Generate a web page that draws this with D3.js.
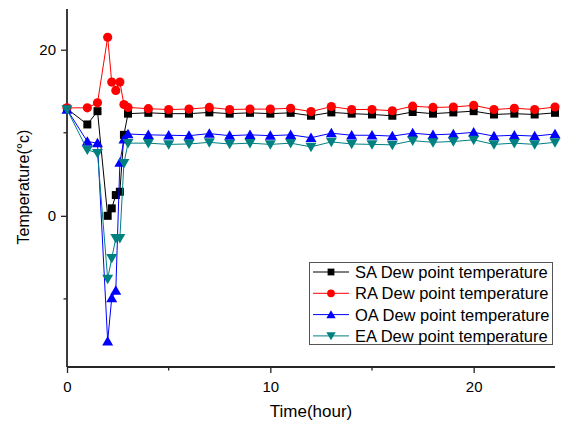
<!DOCTYPE html>
<html>
<head>
<meta charset="utf-8">
<script src="https://cdn.jsdelivr.net/npm/d3@7"></script>
<style>
  body { margin: 0; background: #fff; }
  svg { font-family: "Liberation Sans", Arial, sans-serif; }
</style>
</head>
<body>
<div id="chart"></div>
<script>
var hours = [0, 1, 1.5, 2, 2.2, 2.4, 2.6, 2.8, 3,
    4, 5, 6, 7, 8, 9, 10, 11, 12, 13, 14, 15, 16, 17, 18, 19, 20, 21, 22, 23, 24];

var saDew = [12.9, 11.0, 12.6, 0.0, 0.9, 2.5, 2.9, 9.75, 12.3,
    12.4, 12.3, 12.3, 12.45, 12.3, 12.4, 12.3, 12.4, 12.05, 12.45,
    12.3, 12.2, 12.05, 12.5, 12.3, 12.45, 12.6, 12.2, 12.3, 12.2, 12.4];
var raDew = [13.0, 13.0, 13.6, 21.5, 16.1, 15.1, 16.1, 13.4, 13.05,
    12.9, 12.8, 12.85, 13.05, 12.8, 12.85, 12.85, 12.95, 12.55, 13.15,
    12.8, 12.8, 12.65, 13.2, 13.05, 13.1, 13.3, 12.8, 12.95, 12.8, 13.1];
var oaDew = [12.8, 8.95, 8.75, -15.1, -9.9, -9.0, 6.4, 9.2, 9.85,
    9.75, 9.7, 9.65, 9.9, 9.65, 9.75, 9.65, 9.75, 9.4, 9.95,
    9.7, 9.7, 9.6, 9.95, 9.75, 9.85, 10.05, 9.6, 9.7, 9.6, 9.85];
var eaDew = [12.8, 7.95, 7.55, -7.6, -5.1, -2.7, -2.7, 6.35, 8.75,
    8.75, 8.6, 8.65, 8.85, 8.65, 8.75, 8.6, 8.75, 8.3, 8.9,
    8.65, 8.6, 8.55, 9.05, 8.85, 8.95, 9.15, 8.6, 8.75, 8.6, 8.85];

var seriesNames = ['SA Dew point temperature', 'RA Dew point temperature',
    'OA Dew point temperature', 'EA Dew point temperature'];
var xTicks = [0, 10, 20];
var xMinorTicks = [5, 15];
var yTicks = [0, 20];
var yMinorTicks = [-10, 10];

var series = [
    { name: seriesNames[0], values: saDew, color: '#000000', symbol: 'square' },
    { name: seriesNames[1], values: raDew, color: '#ff0000', symbol: 'circle' },
    { name: seriesNames[2], values: oaDew, color: '#0000ff', symbol: 'up' },
    { name: seriesNames[3], values: eaDew, color: '#008080', symbol: 'down' }
];

var width = 561, height = 423;
var x = d3.scaleLinear().domain([0, 24]).range([67, 555]);
var y = d3.scaleLinear().domain([-18.2, 24.9]).range([367, 9]);

var svg = d3.select('#chart').append('svg')
    .attr('width', width)
    .attr('height', height);

function markerPath(kind, scale) {
    var s = scale || 1;
    if (kind === 'square') return d3.symbol(d3.symbolSquare, 64 * s * s)();
    if (kind === 'circle') return d3.symbol(d3.symbolCircle, 66 * s * s)();
    return d3.symbol(d3.symbolTriangle, 52 * s * s)();
}
function markerTransform(kind, px, py) {
    if (kind === 'up') return 'translate(' + px + ',' + (py + 1) + ')';
    if (kind === 'down') return 'translate(' + px + ',' + (py - 1) + ') rotate(180)';
    return 'translate(' + px + ',' + py + ')';
}

// axes, only left and bottom lines with outward ticks
var axisColor = '#262626';
var xAxis = svg.append('g').attr('transform', 'translate(0,367)');
xAxis.call(d3.axisBottom(x).tickValues(xTicks).tickSize(6).tickPadding(5).tickFormat(d3.format('d')));
xAxis.selectAll('.minor').data(xMinorTicks).enter().append('line')
    .attr('class', 'minor')
    .attr('x1', function(d) { return x(d); })
    .attr('x2', function(d) { return x(d); })
    .attr('y1', 0).attr('y2', 3.5);

var yAxis = svg.append('g').attr('transform', 'translate(67,0)');
yAxis.call(d3.axisLeft(y).tickValues(yTicks).tickSize(6).tickPadding(5).tickFormat(d3.format('d')));
yAxis.selectAll('.minor').data(yMinorTicks).enter().append('line')
    .attr('class', 'minor')
    .attr('y1', function(d) { return y(d); })
    .attr('y2', function(d) { return y(d); })
    .attr('x1', 0).attr('x2', -3.5);

svg.selectAll('.domain').attr('stroke', axisColor).attr('stroke-width', 1.8);
xAxis.select('.domain').attr('d', 'M' + x(0) + ',0H' + x(24));
yAxis.select('.domain').attr('d', 'M0,' + y(-18.2) + 'V' + y(24.9));
svg.selectAll('.tick line, .minor').attr('stroke', axisColor).attr('stroke-width', 1.3);
svg.selectAll('.tick text').attr('fill', '#000').style('font-size', '15px');
xAxis.selectAll('.tick text').attr('dy', '0.9em');

svg.append('text')
    .attr('x', 311).attr('y', 417)
    .attr('text-anchor', 'middle')
    .style('font-size', '17px')
    .text('Time(hour)');

svg.append('text')
    .attr('transform', 'translate(29,187) rotate(-90)')
    .attr('text-anchor', 'middle')
    .style('font-size', '16px')
    .text('Temperature(°c)');

// series
var line = d3.line()
    .x(function(d) { return x(d[0]); })
    .y(function(d) { return y(d[1]); });

var plot = svg.append('g').attr('class', 'series');
series.forEach(function(s) {
    var pts = hours.map(function(h, i) { return [h, s.values[i]]; });
    var g = plot.append('g');
    g.append('path')
        .datum(pts)
        .attr('d', line)
        .attr('fill', 'none')
        .attr('stroke', s.color)
        .attr('stroke-width', 1);
    g.selectAll('path.mark').data(pts).enter().append('path')
        .attr('class', 'mark')
        .attr('d', markerPath(s.symbol))
        .attr('transform', function(d) { return markerTransform(s.symbol, x(d[0]), y(d[1])); })
        .attr('fill', s.color);
});

// legend
var legend = svg.append('g').attr('transform', 'translate(309,262)');
legend.append('rect')
    .attr('x', 0.5).attr('y', 0.5)
    .attr('width', 243).attr('height', 82)
    .attr('fill', '#fff')
    .attr('stroke', '#555')
    .attr('stroke-width', 1);
var rows = legend.selectAll('g.row').data(series).enter().append('g')
    .attr('class', 'row')
    .attr('transform', function(d, i) { return 'translate(0,' + (10 + i * 21.3) + ')'; });
rows.append('line')
    .attr('x1', 4).attr('x2', 40)
    .attr('stroke', function(d) { return d.color; })
    .attr('stroke-width', 1);
rows.append('path')
    .attr('d', function(d) { return markerPath(d.symbol, 0.85); })
    .attr('transform', function(d) { return markerTransform(d.symbol, 22, 0); })
    .attr('fill', function(d) { return d.color; });
rows.append('text')
    .attr('x', 46).attr('dy', '0.36em')
    .style('font-size', '16.5px')
    .text(function(d) { return d.name; });
</script>
</body>
</html>
